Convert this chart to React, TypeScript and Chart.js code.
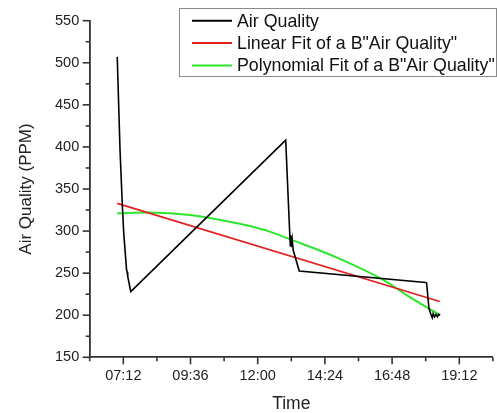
import React, { useEffect, useRef } from "react";
import { Chart, registerables } from "chart.js";

Chart.register(...registerables);

// ---- data (time as minutes since midnight, value in PPM) ----
const airMinutes = [419, 425, 430, 433, 439, 440.5, 441.5, 448, 780, 785.5, 789, 790, 791, 792, 794, 796, 809, 1080, 1082, 1087, 1091, 1094, 1096, 1099, 1102, 1105, 1108, 1111];
const airPPM = [507, 396, 330, 297, 254, 251, 246, 228, 408, 337, 293, 283, 295, 281, 290, 277.5, 252.6, 238.9, 238, 208, 201.5, 197, 202, 198, 201, 198, 201, 200];

const linearMinutes = [419, 1110];
const linearPPM = [333, 216.3];

const polyMinutes = [419, 489, 575, 681, 703, 746, 789, 896, 989, 1039, 1110];
const polyPPM = [321.1, 322, 319, 308.6, 306, 299.4, 290.4, 267, 242, 224, 200.3];

const seriesLabels = ["Air Quality", 'Linear Fit of a B"Air Quality"', 'Polynomial Fit of a B"Air Quality"'];
const seriesColors = ["#000000", "#e32020", "#2ee62e"];

const xMin = 360; // 06:00
const xMax = 1224; // 20:24
const xStep = 72;
const xLabelFirst = 432; // 07:12
const xLabelEvery = 144;

const yMin = 150;
const yMax = 550;
const yStep = 25;
const yLabelEvery = 50;

const FONT = '"Liberation Sans", Arial, sans-serif';
const AXIS_COLOR = "#333333";
const TEXT_COLOR = "#222222";

const fmtTime = (m: number) => {
  const h = Math.floor(m / 60);
  const mm = Math.round(m % 60);
  return String(h).padStart(2, "0") + ":" + String(mm).padStart(2, "0");
};
const isMajorX = (v: number) => Math.abs(((v - xLabelFirst) % xLabelEvery + xLabelEvery) % xLabelEvery) < 1e-6;
const isMajorY = (v: number) => Math.abs(v % yLabelEvery) < 1e-6;

const zip = (xs: number[], ys: number[]) => xs.map((x, i) => ({ x, y: ys[i] }));

const decorPlugin = {
  id: "decor",
  afterDraw(chart: any) {
    const ctx = chart.ctx as CanvasRenderingContext2D;
    const xs = chart.scales.x;
    const ys = chart.scales.y;
    const area = chart.chartArea;
    ctx.save();
    ctx.strokeStyle = AXIS_COLOR;
    ctx.lineWidth = 1.6;
    // x ticks (outward / down)
    xs.ticks.forEach((t: any) => {
      const px = xs.getPixelForValue(t.value);
      const len = isMajorX(t.value) ? 7 : 4;
      ctx.beginPath();
      ctx.moveTo(px, area.bottom);
      ctx.lineTo(px, area.bottom + len);
      ctx.stroke();
    });
    // y ticks (outward / left)
    ys.ticks.forEach((t: any) => {
      const py = ys.getPixelForValue(t.value);
      const len = isMajorY(t.value) ? 7 : 4;
      ctx.beginPath();
      ctx.moveTo(area.left, py);
      ctx.lineTo(area.left - len, py);
      ctx.stroke();
    });

    // legend box
    const bx = 179.5, by = 8.5, bw = 317, bh = 68;
    ctx.strokeStyle = "#8a8a8a";
    ctx.lineWidth = 1;
    ctx.strokeRect(bx, by, bw, bh);
    const rows = [20.7, 43, 65.5];
    ctx.font = `17.8px ${FONT}`;
    ctx.textBaseline = "middle";
    ctx.textAlign = "left";
    chart.data.datasets.forEach((ds: any, i: number) => {
      const y = rows[i];
      ctx.strokeStyle = ds.borderColor;
      ctx.lineWidth = 2;
      ctx.beginPath();
      ctx.moveTo(192, y);
      ctx.lineTo(232, y);
      ctx.stroke();
      ctx.fillStyle = "#111111";
      ctx.fillText(ds.label, 237, y + 1);
    });
    ctx.restore();
  },
};

export default function App() {
  const ref = useRef<HTMLCanvasElement | null>(null);

  useEffect(() => {
    document.body.style.margin = "0";
    const canvas = ref.current;
    if (!canvas) return;
    const chart = new Chart(canvas, {
      type: "line",
      data: {
        datasets: [
          {
            label: seriesLabels[0],
            data: zip(airMinutes, airPPM),
            borderColor: seriesColors[0],
            borderWidth: 1.6,
            pointRadius: 0,
            tension: 0,
          },
          {
            label: seriesLabels[1],
            data: zip(linearMinutes, linearPPM),
            borderColor: seriesColors[1],
            borderWidth: 1.8,
            pointRadius: 0,
            tension: 0,
          },
          {
            label: seriesLabels[2],
            data: zip(polyMinutes, polyPPM),
            borderColor: seriesColors[2],
            borderWidth: 2,
            pointRadius: 0,
            cubicInterpolationMode: "monotone",
          },
        ],
      },
      options: {
        responsive: false,
        animation: false,
        events: [],
        layout: { padding: { top: 20.7, right: 4.1, left: 0, bottom: 0 } },
        plugins: {
          legend: { display: false },
          tooltip: { enabled: false },
        },
        scales: {
          x: {
            type: "linear",
            min: xMin,
            max: xMax,
            border: { display: true, color: AXIS_COLOR, width: 1.8 },
            grid: { display: true, drawOnChartArea: false, drawTicks: true, tickLength: 7, tickColor: "rgba(0,0,0,0)" },
            ticks: {
              stepSize: xStep,
              autoSkip: false,
              maxRotation: 0,
              minRotation: 0,
              padding: 3,
              color: TEXT_COLOR,
              font: { family: FONT, size: 14.5 },
              callback: (v: any) => (isMajorX(Number(v)) ? fmtTime(Number(v)) : ""),
            },
            title: {
              display: true,
              text: "Time",
              color: TEXT_COLOR,
              font: { family: FONT, size: 17.5, lineHeight: 1 },
              padding: { top: 0, bottom: 0 },
            },
            afterFit: (scale: any) => {
              scale.height = 55.7;
            },
          },
          y: {
            type: "linear",
            min: yMin,
            max: yMax,
            border: { display: true, color: AXIS_COLOR, width: 1.8 },
            grid: { display: true, drawOnChartArea: false, drawTicks: true, tickLength: 7, tickColor: "rgba(0,0,0,0)" },
            ticks: {
              stepSize: yStep,
              autoSkip: false,
              padding: 3.5,
              color: TEXT_COLOR,
              font: { family: FONT, size: 14.5 },
              callback: (v: any) => (isMajorY(Number(v)) ? String(v) : ""),
            },
            title: {
              display: true,
              text: "Air Quality (PPM)",
              color: TEXT_COLOR,
              font: { family: FONT, size: 17, lineHeight: 1 },
              padding: { top: 17.5, bottom: 0 },
            },
            afterFit: (scale: any) => {
              scale.width = 89.7;
            },
          },
        },
      },
      plugins: [decorPlugin],
    } as any);
    return () => chart.destroy();
  }, []);

  return (
    <div style={{ width: 497, height: 413 }}>
      <canvas ref={ref} width={497} height={413} style={{ display: "block" }} />
    </div>
  );
}
